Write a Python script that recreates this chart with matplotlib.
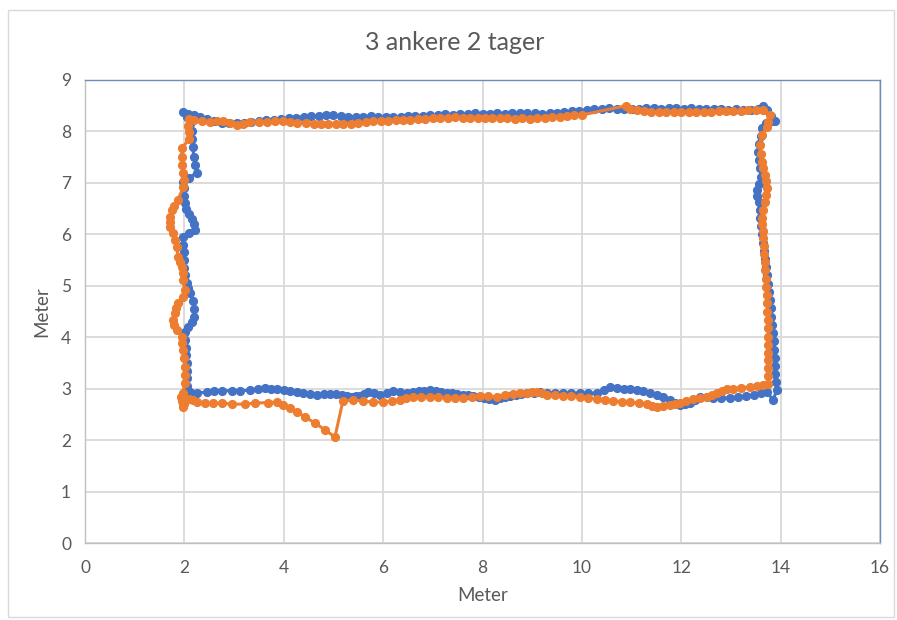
import numpy as np
import matplotlib.pyplot as plt
from matplotlib.patches import Rectangle

plt.rcParams['font.family'] = ['Lato', 'DejaVu Sans']

# Tag 1 (blue): bottom -> right side -> top -> left side
blue_bottom = [(2.11, 2.94), (2.25, 2.92), (2.45, 2.93), (2.6, 2.95), (2.76, 2.96), (2.95, 2.96),
               (3.12, 2.96), (3.32, 2.97), (3.48, 3.0), (3.62, 3.02), (3.75, 3.0), (3.86, 2.99),
               (4.0, 2.97), (4.13, 2.96), (4.26, 2.94), (4.39, 2.92), (4.53, 2.9), (4.67, 2.88),
               (4.8, 2.89), (4.93, 2.9), (5.05, 2.89), (5.17, 2.88), (5.27, 2.86), (5.37, 2.84),
               (5.45, 2.85), (5.53, 2.86), (5.62, 2.9), (5.7, 2.94), (5.82, 2.91), (5.94, 2.88),
               (6.07, 2.92), (6.2, 2.96), (6.34, 2.94), (6.48, 2.92), (6.6, 2.94), (6.72, 2.96),
               (6.83, 2.95), (6.94, 2.97), (7.06, 2.95), (7.17, 2.93), (7.28, 2.92), (7.38, 2.91),
               (7.49, 2.9), (7.6, 2.88), (7.71, 2.87), (7.81, 2.86), (7.92, 2.84), (8.03, 2.82),
               (8.14, 2.8), (8.25, 2.78), (8.35, 2.81), (8.45, 2.84), (8.55, 2.86), (8.67, 2.88),
               (8.78, 2.9), (8.9, 2.92), (9.03, 2.92), (9.16, 2.93), (9.3, 2.92), (9.46, 2.92),
               (9.62, 2.92), (9.79, 2.91), (9.96, 2.92), (10.13, 2.91), (10.3, 2.92), (10.45, 2.97),
               (10.57, 3.03), (10.7, 3.02), (10.84, 3.0), (10.97, 2.99), (11.1, 2.98), (11.23, 2.96),
               (11.37, 2.92), (11.51, 2.88), (11.64, 2.83), (11.77, 2.78), (11.87, 2.72), (11.97, 2.68),
               (12.08, 2.7), (12.18, 2.72), (12.28, 2.78), (12.38, 2.84), (12.51, 2.83), (12.64, 2.82),
               (12.81, 2.82), (12.98, 2.82), (13.14, 2.84), (13.3, 2.86), (13.46, 2.88), (13.6, 2.91),
               (13.72, 2.94)]
blue_right = [(13.85, 2.78), (13.92, 2.97), (13.9, 3.12), (13.89, 3.28), (13.88, 3.44), (13.88, 3.6),
              (13.87, 3.76), (13.86, 3.92), (13.85, 4.08), (13.83, 4.24), (13.81, 4.4), (13.8, 4.56),
              (13.78, 4.72), (13.76, 4.88), (13.74, 5.04), (13.72, 5.2), (13.7, 5.36), (13.68, 5.52),
              (13.66, 5.68), (13.64, 5.84), (13.62, 6.0), (13.6, 6.16), (13.59, 6.32), (13.58, 6.48),
              (13.56, 6.62), (13.52, 6.74), (13.52, 6.86), (13.56, 6.98), (13.6, 7.12), (13.59, 7.28),
              (13.56, 7.44), (13.55, 7.6), (13.57, 7.76), (13.6, 7.92), (13.63, 8.06), (13.7, 8.16),
              (13.82, 8.2), (13.89, 8.2), (13.8, 8.3), (13.72, 8.42), (13.65, 8.5), (13.55, 8.44)]
blue_top = [(13.4, 8.42), (13.25, 8.42), (13.1, 8.43), (12.95, 8.42), (12.8, 8.43), (12.65, 8.44),
            (12.5, 8.44), (12.35, 8.44), (12.2, 8.45), (12.05, 8.44), (11.9, 8.45), (11.75, 8.45),
            (11.6, 8.44), (11.45, 8.45), (11.3, 8.45), (11.15, 8.44), (11.0, 8.43), (10.85, 8.44),
            (10.7, 8.44), (10.55, 8.45), (10.4, 8.44), (10.25, 8.43), (10.1, 8.42), (9.95, 8.4),
            (9.8, 8.39), (9.65, 8.37), (9.5, 8.36), (9.35, 8.35), (9.2, 8.34), (9.05, 8.35),
            (8.9, 8.35), (8.75, 8.36), (8.6, 8.35), (8.45, 8.34), (8.3, 8.35), (8.15, 8.33),
            (8.0, 8.34), (7.85, 8.35), (7.7, 8.34), (7.55, 8.33), (7.4, 8.32), (7.25, 8.33),
            (7.1, 8.32), (6.95, 8.31), (6.8, 8.3), (6.65, 8.3), (6.5, 8.3), (6.35, 8.28),
            (6.2, 8.29), (6.05, 8.28), (5.9, 8.28), (5.75, 8.3), (5.6, 8.29), (5.45, 8.29),
            (5.3, 8.28), (5.15, 8.3), (5.0, 8.31), (4.85, 8.31), (4.7, 8.3), (4.55, 8.3),
            (4.4, 8.28), (4.25, 8.27), (4.1, 8.26), (3.95, 8.25), (3.8, 8.23), (3.65, 8.22),
            (3.5, 8.2), (3.35, 8.18), (3.2, 8.17), (3.05, 8.16), (2.9, 8.16), (2.75, 8.17),
            (2.6, 8.2), (2.45, 8.24), (2.32, 8.28), (2.2, 8.31), (2.08, 8.34), (1.98, 8.37)]
blue_left = [(2.05, 8.28), (2.12, 8.15), (2.16, 8.0), (2.15, 7.85), (2.17, 7.7), (2.19, 7.5),
             (2.22, 7.35), (2.25, 7.2), (2.1, 7.1), (1.98, 7.02), (1.99, 6.9), (2.0, 6.75),
             (2.02, 6.6), (2.04, 6.5), (2.1, 6.4), (2.15, 6.3), (2.2, 6.2), (2.22, 6.08),
             (2.1, 6.02), (1.98, 5.95), (1.97, 5.8), (1.99, 5.65), (2.0, 5.5), (2.0, 5.35),
             (2.02, 5.2), (2.05, 5.05), (2.08, 4.95), (2.12, 4.85), (2.17, 4.7), (2.2, 4.55),
             (2.2, 4.4), (2.15, 4.3), (2.08, 4.2), (2.02, 4.1), (2.02, 3.95), (2.03, 3.8),
             (2.03, 3.65), (2.05, 3.5), (2.05, 3.35), (2.06, 3.2), (2.06, 3.05), (2.08, 2.95)]

# Tag 2 (orange): same round, with the dip near x = 5 and the jump on top near x = 10.9
orange_bottom = [(1.97, 2.68), (2.0, 2.74), (2.1, 2.8), (2.18, 2.77), (2.26, 2.75), (2.41, 2.72),
                 (2.58, 2.72), (2.76, 2.72), (2.96, 2.7), (3.22, 2.7), (3.42, 2.72), (3.68, 2.73),
                 (3.86, 2.74), (3.98, 2.68), (4.13, 2.62), (4.27, 2.55), (4.43, 2.45), (4.63, 2.33),
                 (4.83, 2.2), (5.03, 2.06), (5.19, 2.76), (5.39, 2.78), (5.6, 2.76), (5.8, 2.74),
                 (6.0, 2.74), (6.17, 2.76), (6.34, 2.78), (6.47, 2.81), (6.6, 2.84), (6.77, 2.84),
                 (6.94, 2.84), (7.11, 2.83), (7.28, 2.82), (7.44, 2.82), (7.6, 2.82), (7.78, 2.84),
                 (7.95, 2.86), (8.12, 2.85), (8.29, 2.84), (8.45, 2.87), (8.61, 2.9), (8.75, 2.91),
                 (8.9, 2.92), (9.0, 2.93), (9.1, 2.94), (9.2, 2.91), (9.3, 2.88), (9.46, 2.87),
                 (9.62, 2.86), (9.79, 2.85), (9.96, 2.84), (10.13, 2.82), (10.3, 2.8), (10.47, 2.78),
                 (10.63, 2.76), (10.8, 2.75), (10.97, 2.74), (11.14, 2.72), (11.31, 2.7), (11.41, 2.67),
                 (11.51, 2.64), (11.64, 2.66), (11.77, 2.68), (11.87, 2.7), (11.97, 2.72), (12.1, 2.76),
                 (12.24, 2.8), (12.38, 2.82), (12.52, 2.84), (12.62, 2.88), (12.72, 2.92), (12.82, 2.96),
                 (12.92, 2.99), (13.05, 3.0), (13.2, 3.02), (13.38, 3.03), (13.52, 3.05), (13.64, 3.07),
                 (13.75, 3.1)]
orange_right = [(13.75, 3.25), (13.75, 3.4), (13.75, 3.55), (13.75, 3.7), (13.75, 3.85), (13.75, 4.0),
                (13.75, 4.18), (13.74, 4.34), (13.73, 4.5), (13.73, 4.66), (13.72, 4.82), (13.71, 4.98),
                (13.7, 5.14), (13.69, 5.3), (13.68, 5.46), (13.67, 5.62), (13.66, 5.78), (13.65, 5.92),
                (13.64, 6.06), (13.62, 6.2), (13.62, 6.32), (13.65, 6.48), (13.68, 6.63), (13.71, 6.77),
                (13.72, 6.9), (13.7, 7.03), (13.68, 7.15), (13.65, 7.28), (13.62, 7.4), (13.6, 7.56),
                (13.58, 7.74), (13.62, 7.93), (13.72, 8.09), (13.75, 8.18), (13.79, 8.32), (13.65, 8.42)]
orange_top = [(13.5, 8.41), (13.35, 8.41), (13.2, 8.4), (13.05, 8.39), (12.9, 8.4), (12.75, 8.39),
              (12.6, 8.38), (12.45, 8.37), (12.3, 8.38), (12.15, 8.38), (12.0, 8.37), (11.85, 8.38),
              (11.7, 8.37), (11.55, 8.37), (11.4, 8.38), (11.25, 8.4), (11.1, 8.41), (10.97, 8.43),
              (10.89, 8.5), (10.0, 8.32), (9.85, 8.31), (9.7, 8.3), (9.55, 8.29), (9.4, 8.28),
              (9.25, 8.27), (9.1, 8.26), (8.95, 8.25), (8.8, 8.26), (8.65, 8.25), (8.5, 8.26),
              (8.35, 8.26), (8.2, 8.26), (8.05, 8.27), (7.9, 8.26), (7.75, 8.27), (7.6, 8.27),
              (7.45, 8.28), (7.3, 8.27), (7.15, 8.27), (7.0, 8.26), (6.85, 8.25), (6.7, 8.24),
              (6.55, 8.23), (6.4, 8.23), (6.25, 8.22), (6.1, 8.21), (5.95, 8.2), (5.8, 8.2),
              (5.65, 8.18), (5.5, 8.16), (5.35, 8.15), (5.19, 8.15), (5.05, 8.14), (4.9, 8.14),
              (4.75, 8.15), (4.6, 8.15), (4.45, 8.16), (4.27, 8.17), (4.12, 8.19), (3.98, 8.21),
              (3.82, 8.2), (3.66, 8.19), (3.5, 8.18), (3.32, 8.18), (3.18, 8.15), (3.06, 8.13),
              (2.92, 8.17), (2.78, 8.21), (2.65, 8.2), (2.52, 8.19), (2.35, 8.2), (2.2, 8.22),
              (2.1, 8.24)]
orange_left = [(2.08, 8.1), (2.1, 7.98), (2.1, 7.85), (1.95, 7.68), (1.95, 7.5), (1.96, 7.35),
               (1.97, 7.2), (2.0, 7.05), (1.98, 6.92), (1.87, 6.67), (1.8, 6.55), (1.75, 6.47),
               (1.71, 6.34), (1.71, 6.24), (1.72, 6.14), (1.77, 6.03), (1.81, 5.89), (1.85, 5.75),
               (1.87, 5.56), (1.92, 5.46), (1.95, 5.37), (1.97, 5.24), (1.97, 5.11), (2.01, 4.92),
               (1.97, 4.78), (1.87, 4.66), (1.84, 4.56), (1.81, 4.47), (1.77, 4.33), (1.8, 4.24),
               (1.85, 4.14), (1.95, 4.0), (1.96, 3.88), (1.97, 3.75), (1.99, 3.6), (2.01, 3.42),
               (2.01, 3.26), (2.01, 3.11), (1.97, 2.92), (1.93, 2.84), (1.95, 2.76), (2.0, 2.7),
               (1.98, 2.64)]

blue = np.array(blue_bottom + blue_right + blue_top + blue_left)
orange = np.array(orange_bottom + orange_right + orange_top + orange_left)

x_ticks = np.arange(0, 17, 2)
y_ticks = np.arange(0, 10, 1)

gray = '#595959'
fig = plt.figure(figsize=(8.97, 6.2), dpi=100)
ax = fig.add_axes([85 / 897, 1 - 543 / 620, 795 / 897, 463 / 620])

ax.plot(blue[:, 0], blue[:, 1], color='#4472C4', lw=2.2, marker='o', ms=5.6, zorder=3)
ax.plot(orange[:, 0], orange[:, 1], color='#ED7D31', lw=2.2, marker='o', ms=5.6, zorder=4)

ax.set_xlim(0, 16)
ax.set_ylim(0, 9)
ax.set_xticks(x_ticks)
ax.set_yticks(y_ticks)
ax.grid(True, color='#D9D9D9', lw=1.3, zorder=0)
ax.set_axisbelow(True)
ax.tick_params(length=0, labelsize=12.5, labelcolor=gray, pad=10)
ax.tick_params(axis='x', pad=12)

for s in ['left', 'bottom']:
    ax.spines[s].set_color('#BFBFBF')
    ax.spines[s].set_linewidth(1.0)
for s in ['top', 'right']:
    ax.spines[s].set_color('#6E8DB5')
    ax.spines[s].set_linewidth(1.0)

ax.set_xlabel('Meter', fontsize=13.5, color=gray, labelpad=8)
ax.set_ylabel('Meter', fontsize=13.5, color=gray, labelpad=8)
fig.text(0.507, 1 - 42 / 620, '3 ankere 2 tager', ha='center', va='center',
         fontsize=18, color=gray)

# light frame around the chart area
fig.patches.append(Rectangle((8 / 897, 3 / 620), 886 / 897, 607 / 620, transform=fig.transFigure,
                             fill=False, edgecolor='#D9D9D9', lw=1.0))

fig.savefig('out.png', dpi=100)
